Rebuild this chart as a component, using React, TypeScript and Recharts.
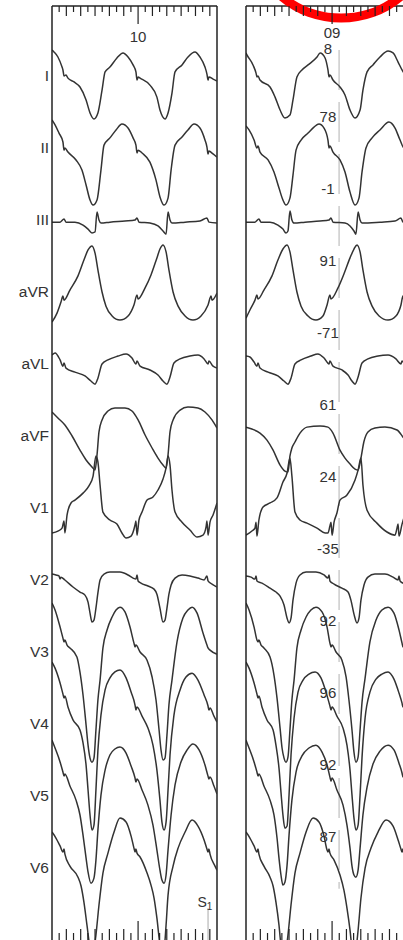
import React from "react";
import { LineChart, Line, XAxis, YAxis, ReferenceLine, ReferenceDot } from "recharts";

type Pt = [number, number]; // [ms, mV]

const LEADS = ["I", "II", "III", "aVR", "aVL", "aVF", "V1", "V2", "V3", "V4", "V5", "V6"];
const LEAD_GAP = 3; // mV between lead baselines
const SWEEP_MS = 920;
const ZERO_MS = 480; // long ruler mark under the panel number
const RULER_TICKS = [40, 80, 120, 160, 200, 240, 280, 320, 360, 400, 440, 480, 520, 560, 600, 640, 680, 720, 760, 800, 840, 880];
const AMP_TOP = 2.875;
const AMP_BOTTOM = -36.08;

// clinical beat (left panel)
const leftI: Pt[] = [[0,1.04],[11,0.96],[33,0.75],[56,0.33],[61,0.21],[67,-0.04],[78,0],[89,-0.13],[123,-0.29],[156,-0.5],[190,-1.04],[212,-1.58],[234,-1.83],[256,-1.58],[279,-0.63],[296,0.13],[323,0.33],[362,0.71],[396,0.92],[424,0.75],[452,0.42],[468,0.13],[474,-0.21],[480,-0.08],[491,-0.13],[546,-0.42],[585,-0.92],[602,-1.46],[630,-1.83],[647,-1.58],[669,-0.75],[686,0.13],[725,0.42],[758,0.75],[797,0.96],[825,0.75],[853,0.33],[864,0.04],[870,-0.21],[875,-0.08],[898,-0.17],[920,-0.25]];
const leftII: Pt[] = [[0,1.13],[17,0.92],[39,0.58],[61,0.21],[67,-0.13],[72,-0.04],[89,-0.21],[134,-0.54],[167,-0.96],[190,-1.58],[212,-2.21],[229,-2.42],[251,-2.21],[273,-0.96],[290,0.08],[323,0.38],[357,0.71],[390,0.96],[424,0.79],[452,0.38],[468,0.08],[474,-0.25],[480,-0.13],[502,-0.25],[546,-0.63],[580,-1.38],[602,-2.08],[625,-2.42],[647,-2.13],[664,-0.96],[686,0.08],[725,0.42],[758,0.71],[792,0.96],[825,0.79],[853,0.29],[864,0],[870,-0.29],[875,-0.17],[898,-0.29],[920,-0.42]];
const leftIII: Pt[] = [[0,-0.13],[45,-0.13],[67,0],[78,-0.13],[128,-0.13],[173,-0.25],[201,-0.42],[223,-0.58],[240,-0.54],[251,0.29],[262,-0.04],[273,-0.17],[323,-0.13],[407,-0.08],[463,-0.04],[474,0.04],[485,-0.13],[546,-0.17],[591,-0.29],[619,-0.5],[636,-0.63],[647,0.29],[658,-0.04],[669,-0.17],[742,-0.13],[825,-0.08],[864,0.04],[875,-0.13],[920,-0.17]];
const leftAVR: Pt[] = [[0,-1.29],[28,-0.92],[50,-0.46],[61,-0.21],[67,-0.38],[100,0.04],[145,0.63],[178,1.29],[201,1.71],[223,1.88],[240,1.58],[256,0.88],[279,-0.04],[301,-0.63],[335,-1.04],[379,-1.21],[424,-1.04],[457,-0.58],[474,-0.17],[480,-0.33],[519,0.13],[552,0.67],[585,1.38],[602,1.75],[619,1.92],[636,1.63],[652,0.88],[675,-0.04],[703,-0.63],[742,-1.04],[786,-1.21],[831,-1.04],[870,-0.58],[887,-0.21],[892,-0.38],[920,-0.08]];
const leftAVL: Pt[] = [[0,0.33],[17,0.42],[45,0.13],[61,-0.13],[67,0],[78,-0.21],[128,-0.38],[184,-0.54],[217,-0.75],[240,-0.88],[256,-0.63],[279,-0.04],[312,0.13],[368,0.29],[413,0.38],[446,0.21],[468,-0.04],[474,0.08],[491,-0.13],[546,-0.29],[591,-0.5],[619,-0.75],[641,-0.88],[658,-0.58],[680,0],[714,0.17],[769,0.29],[814,0.33],[848,0.17],[870,-0.04],[875,0.08],[898,-0.13],[920,-0.21]];
const leftAVF: Pt[] = [[0,0.96],[33,0.71],[72,0.42],[112,-0.04],[156,-0.63],[190,-1.04],[223,-1.33],[240,-1.46],[251,-0.83],[262,0.13],[279,0.63],[312,1.0],[351,1.13],[407,1.13],[446,1.0],[480,0.63],[519,0],[558,-0.54],[591,-0.96],[619,-1.25],[636,-1.38],[647,-0.83],[658,0.13],[675,0.63],[714,1.04],[758,1.17],[814,1.13],[853,0.96],[892,0.63],[920,0.29]];
const leftV1: Pt[] = [[0,-1.08],[33,-1.0],[56,-0.88],[67,-0.58],[72,-1.08],[84,-0.33],[106,0.17],[128,0.29],[173,0.58],[206,0.88],[229,1.29],[245,2.13],[256,1.88],[268,0.92],[284,-0.21],[323,-0.54],[362,-0.71],[390,-1.08],[413,-1.29],[441,-1.21],[463,-0.75],[468,-0.58],[474,-1.17],[485,-0.54],[502,-0.21],[530,0.29],[563,0.42],[591,0.71],[619,1.17],[636,1.63],[647,2.13],[658,1.75],[669,0.71],[686,-0.21],[725,-0.63],[769,-0.96],[809,-1.25],[842,-1.17],[859,-0.83],[864,-0.58],[870,-1.17],[881,-0.63],[898,-0.33],[920,0.17]];
const leftV2: Pt[] = [[0,0.21],[22,0.17],[39,0.13],[45,0],[50,0.08],[72,-0.04],[117,-0.33],[156,-0.54],[184,-0.67],[201,-0.96],[212,-1.42],[223,-1.79],[234,-1.71],[245,-1.21],[256,-0.58],[268,-0.04],[290,0.21],[323,0.29],[379,0.29],[424,0.17],[452,0.04],[468,0],[474,0.17],[480,-0.08],[496,-0.17],[535,-0.29],[569,-0.42],[585,-0.63],[602,-1.21],[619,-1.79],[630,-1.71],[641,-1.21],[652,-0.63],[664,-0.25],[686,0.04],[725,0.17],[769,0.13],[814,0.04],[848,-0.04],[864,0.13],[870,-0.08],[892,-0.21],[920,-0.33]];
const leftV3: Pt[] = [[0,2.0],[17,1.71],[45,1.0],[61,0.54],[67,0.38],[72,0.46],[84,0.25],[100,0.13],[139,-0.25],[156,-0.88],[173,-1.83],[190,-3.08],[201,-3.92],[212,-4.46],[223,-4.63],[234,-4.46],[245,-3.29],[256,-2.04],[268,-1.21],[284,0.13],[307,0.88],[335,1.42],[357,1.71],[379,1.83],[407,1.63],[435,1.0],[457,0.33],[463,0.17],[468,0.25],[491,-0.04],[530,-0.38],[558,-1.08],[580,-2.04],[597,-3.29],[608,-4.13],[619,-4.54],[630,-4.46],[641,-3.5],[652,-2.25],[669,-1.21],[697,0.38],[730,1.38],[758,1.71],[781,1.83],[809,1.58],[842,0.75],[864,0.25],[870,0.13],[881,0.04],[920,-0.13]];
const leftV4: Pt[] = [[0,2.54],[17,2.29],[45,1.67],[61,1.21],[67,1.04],[72,1.13],[89,0.67],[117,0.13],[156,-0.29],[173,-0.83],[190,-1.75],[201,-2.79],[212,-3.83],[223,-4.46],[234,-4.25],[245,-2.79],[256,-1.13],[273,0.33],[296,1.38],[323,1.88],[351,2.13],[379,2.21],[413,1.88],[441,1.29],[463,0.75],[468,0.54],[474,0.67],[502,0.29],[535,-0.21],[563,-0.92],[585,-1.96],[602,-3.21],[613,-4.13],[625,-4.46],[636,-4.13],[647,-2.79],[658,-1.33],[680,0.33],[714,1.38],[747,1.92],[781,2.08],[814,1.79],[848,1.17],[870,0.71],[875,0.54],[881,0.63],[903,0.29],[920,0.04]];
const leftV5: Pt[] = [[0,2.29],[17,1.96],[45,1.38],[61,0.96],[67,0.79],[72,0.88],[100,0.38],[134,-0.21],[156,-0.83],[173,-1.67],[190,-2.63],[201,-3.21],[217,-3.67],[234,-3.46],[245,-2.71],[256,-1.46],[273,0],[296,1.04],[323,1.67],[351,1.92],[379,2.0],[413,1.75],[441,1.21],[463,0.71],[468,0.54],[474,0.67],[502,0.21],[535,-0.42],[563,-1.25],[585,-2.29],[602,-3.13],[613,-3.54],[625,-3.67],[636,-3.33],[647,-2.29],[664,-0.83],[686,0.42],[719,1.38],[753,1.88],[786,2.13],[820,1.88],[853,1.25],[870,0.79],[875,0.67],[881,0.75],[903,0.38],[920,0.04]];
const leftV6: Pt[] = [[0,1.46],[22,1.21],[45,0.88],[61,0.63],[67,0.75],[72,0.54],[100,0.04],[145,-0.42],[162,-0.79],[178,-1.46],[195,-2.42],[212,-3.38],[223,-3.71],[234,-3.46],[245,-2.83],[262,-1.58],[284,-0.25],[312,0.58],[346,1.46],[379,2.04],[413,1.88],[441,1.29],[457,0.79],[463,0.63],[468,0.75],[474,0.58],[491,0.42],[530,-0.25],[552,-0.75],[569,-1.29],[585,-2.13],[602,-3.25],[613,-3.71],[625,-3.46],[636,-2.42],[647,-1.17],[675,0.04],[703,0.79],[742,1.46],[781,1.96],[814,1.71],[848,1.13],[864,0.75],[870,0.63],[875,0.75],[881,0.54],[909,0.04],[920,-0.13]];

// pace map (right panel)
const rightI: Pt[] = [[0,0.92],[6,0.83],[39,0.42],[56,0.08],[61,-0.08],[67,-0.04],[78,-0.21],[134,-0.5],[162,-0.92],[190,-1.46],[217,-1.79],[245,-1.67],[262,-1.04],[284,-0.08],[312,0.21],[346,0.42],[396,0.75],[413,0.92],[441,0.71],[457,0.21],[463,-0.08],[468,0],[485,-0.21],[524,-0.5],[552,-0.83],[580,-1.46],[608,-1.79],[636,-1.46],[652,-0.63],[675,0.13],[708,0.42],[747,0.75],[792,1.0],[820,0.92],[848,0.54],[870,0.21],[887,0],[898,-0.13],[920,-0.29]];
const rightII: Pt[] = [[0,0.88],[17,0.71],[45,0.29],[61,-0.04],[67,0.04],[78,-0.21],[123,-0.54],[156,-1.04],[184,-1.71],[206,-2.21],[223,-2.42],[245,-2.13],[262,-1.17],[279,-0.13],[307,0.29],[346,0.58],[379,0.83],[407,0.96],[435,0.79],[457,0.29],[463,-0.04],[468,0.04],[485,-0.21],[524,-0.54],[552,-1.04],[580,-1.88],[608,-2.42],[630,-2.13],[647,-1.04],[669,-0.04],[703,0.38],[747,0.71],[797,1.04],[831,0.79],[859,0.29],[881,-0.04],[887,0.04],[903,-0.21],[920,-0.33]];
const rightIII: Pt[] = [[0,-0.13],[50,-0.13],[72,0],[84,-0.13],[134,-0.13],[178,-0.25],[206,-0.42],[223,-0.58],[234,-0.5],[245,0.33],[256,-0.04],[268,-0.17],[329,-0.13],[413,-0.08],[463,-0.04],[474,0.04],[485,-0.13],[552,-0.17],[580,-0.29],[602,-0.5],[613,-0.63],[625,0.29],[636,-0.04],[647,-0.17],[747,-0.13],[831,-0.08],[864,0.04],[875,-0.13],[920,-0.17]];
const rightAVR: Pt[] = [[0,-1.13],[22,-0.79],[50,-0.38],[61,-0.17],[67,-0.33],[100,0.04],[145,0.63],[178,1.29],[206,1.75],[229,1.92],[245,1.63],[262,0.88],[284,-0.04],[307,-0.63],[346,-1.04],[390,-1.21],[429,-1.04],[452,-0.58],[468,-0.17],[474,-0.33],[513,0.13],[546,0.71],[580,1.38],[602,1.75],[619,1.92],[636,1.63],[652,0.88],[675,-0.04],[703,-0.63],[742,-1.04],[792,-1.21],[836,-1.04],[864,-0.58],[875,-0.21],[881,-0.38],[920,0]];
const rightAVL: Pt[] = [[0,0.29],[22,0.25],[45,0.04],[61,-0.13],[67,0],[78,-0.21],[123,-0.38],[178,-0.54],[212,-0.75],[234,-0.88],[251,-0.63],[273,-0.04],[307,0.13],[362,0.29],[401,0.38],[435,0.21],[463,-0.04],[468,0.08],[485,-0.13],[535,-0.29],[569,-0.5],[591,-0.75],[608,-0.88],[625,-0.58],[647,0],[680,0.17],[736,0.29],[792,0.33],[836,0.17],[864,-0.04],[870,0.08],[892,-0.13],[920,-0.21]];
const rightAVF: Pt[] = [[0,0.33],[33,0.25],[78,0.08],[117,-0.21],[151,-0.63],[190,-1.25],[217,-1.5],[234,-1.54],[245,-0.88],[256,-0.54],[273,-0.29],[301,0.08],[340,0.33],[413,0.38],[457,0.33],[485,0.08],[524,-0.63],[552,-0.96],[580,-1.21],[608,-1.42],[625,-1.46],[641,-0.96],[657,-0.29],[680,0.13],[719,0.29],[775,0.33],[842,0.21],[875,-0.08],[920,-0.54]];
const rightV1: Pt[] = [[0,-1.17],[33,-1.0],[50,-0.88],[56,-0.63],[61,-1.21],[72,-0.54],[95,0],[134,0.17],[173,0.38],[206,1.04],[229,1.42],[245,2.04],[256,1.29],[273,-0.21],[301,-0.54],[340,-0.67],[396,-0.88],[441,-1.08],[457,-1.08],[468,-0.79],[474,-0.63],[480,-1.17],[491,-0.63],[507,-0.25],[524,0.29],[563,0.5],[608,1.13],[625,1.54],[641,2.04],[652,0.92],[675,-0.13],[730,-0.67],[786,-1.04],[831,-1.17],[842,-0.88],[848,-0.71],[853,-1.21],[870,-0.71],[892,-0.21],[920,0.08]];
const rightV2: Pt[] = [[0,0.13],[28,0.08],[50,0],[56,0.13],[61,-0.08],[89,-0.17],[134,-0.38],[167,-0.54],[190,-0.71],[212,-1.08],[229,-1.63],[240,-1.83],[251,-1.63],[262,-0.88],[279,-0.17],[301,0.17],[335,0.29],[390,0.29],[435,0.17],[457,0.04],[463,0.17],[468,-0.08],[491,-0.21],[535,-0.38],[569,-0.54],[585,-0.88],[602,-1.46],[619,-1.83],[630,-1.63],[641,-0.88],[658,-0.25],[680,0.08],[719,0.21],[775,0.21],[820,0.08],[848,-0.04],[853,0.13],[859,-0.08],[887,-0.21],[920,-0.33]];
const rightV3: Pt[] = [[0,2.0],[17,1.71],[45,1.0],[61,0.46],[67,0.38],[72,0.46],[84,0.25],[100,0.13],[134,-0.25],[156,-1.0],[173,-1.96],[190,-3.21],[201,-4.04],[212,-4.46],[223,-4.63],[234,-4.42],[245,-3.29],[256,-2.04],[268,-1.21],[284,0.13],[307,0.88],[335,1.42],[362,1.71],[390,1.83],[424,1.63],[452,1.0],[468,0.33],[474,0.17],[480,0.25],[502,-0.04],[535,-0.38],[558,-1.08],[574,-2.04],[591,-3.29],[602,-4.21],[613,-4.63],[625,-4.42],[636,-3.29],[647,-2.13],[664,-1.13],[691,0.38],[725,1.29],[758,1.71],[792,1.83],[825,1.58],[853,0.88],[870,0.33],[875,0.17],[881,0.25],[903,-0.04],[920,-0.17]];
const rightV4: Pt[] = [[0,2.54],[17,2.29],[45,1.67],[61,1.21],[67,1.04],[72,1.13],[89,0.67],[117,0.13],[151,-0.29],[167,-0.92],[184,-1.88],[195,-2.88],[206,-3.83],[217,-4.38],[229,-4.29],[240,-3.0],[251,-1.33],[268,0.21],[290,1.29],[318,1.79],[351,2.04],[385,2.13],[418,1.88],[446,1.29],[468,0.71],[474,0.54],[480,0.67],[507,0.29],[541,-0.21],[563,-0.92],[580,-1.96],[591,-3.0],[602,-3.96],[613,-4.46],[625,-4.25],[636,-3.0],[647,-1.42],[664,0.21],[691,1.29],[725,1.83],[758,2.04],[792,2.13],[825,1.83],[853,1.25],[870,0.83],[875,0.67],[881,0.79],[903,0.46],[920,0.21]];
const rightV5: Pt[] = [[0,2.29],[17,1.96],[45,1.38],[61,0.96],[67,0.79],[72,0.88],[100,0.38],[134,-0.21],[156,-0.83],[173,-1.79],[184,-2.63],[195,-3.33],[206,-3.75],[217,-3.63],[229,-2.92],[240,-1.67],[256,-0.21],[279,0.96],[312,1.63],[351,1.96],[390,2.08],[424,1.79],[452,1.25],[468,0.75],[474,0.58],[480,0.71],[507,0.21],[541,-0.42],[563,-1.25],[580,-2.21],[591,-2.96],[602,-3.33],[613,-3.42],[625,-3.13],[636,-2.21],[652,-0.83],[675,0.33],[708,1.29],[747,1.83],[792,2.08],[825,1.88],[853,1.33],[870,0.92],[875,0.75],[881,0.83],[903,0.46],[920,0.13]];
const rightV6: Pt[] = [[0,1.46],[22,1.21],[45,0.88],[61,0.63],[67,0.75],[72,0.54],[100,0.04],[134,-0.42],[151,-0.79],[167,-1.46],[184,-2.42],[195,-3.25],[212,-3.71],[223,-3.46],[234,-2.83],[251,-1.58],[273,-0.25],[301,0.58],[335,1.46],[374,2.04],[407,1.88],[435,1.29],[452,0.71],[457,0.63],[463,0.75],[468,0.58],[491,0.29],[524,-0.33],[546,-0.96],[563,-1.71],[580,-2.63],[591,-3.38],[602,-3.71],[613,-3.46],[625,-2.63],[641,-1.29],[664,-0.04],[697,0.79],[736,1.46],[781,1.96],[820,1.71],[848,1.13],[864,0.75],[870,0.63],[875,0.75],[881,0.54],[920,0.04]];

const leftTraces = [leftI, leftII, leftIII, leftAVR, leftAVL, leftAVF, leftV1, leftV2, leftV3, leftV4, leftV5, leftV6];
const rightTraces = [rightI, rightII, rightIII, rightAVR, rightAVL, rightAVF, rightV1, rightV2, rightV3, rightV4, rightV5, rightV6];

// per-lead pace map correlation
const PACE_SCORES = [8, 78, -1, 91, -71, 61, 24, -35, 92, 96, 92, 87];
const SCORE_MS = 457;
const COMPARE_MS = 519; // dashed alignment cursor
const STIM_MS = 870; // S1 stimulus

const INK = "#222";
const TRACE = "#333";
const FONT = "'Liberation Sans', Arial, Helvetica, sans-serif";

function RulerTick(props: any) {
  const { x, y, payload, side, caption, captionDy } = props;
  const ms = payload.value;
  const up = side === "bottom";
  const len = ms === ZERO_MS ? (up ? 20 : 18) : ms % 80 === 0 ? (up ? 12 : 10) : up ? 8 : 6;
  return (
    <g>
      <line x1={x} x2={x} y1={y} y2={up ? y - len : y + len} stroke={INK} strokeWidth={1.2} />
      {caption && ms === ZERO_MS ? (
        <text x={x} y={y + captionDy} dy="0.36em" textAnchor="middle" fontSize={15} fill="#333" fontFamily={FONT}>
          {caption}
        </text>
      ) : null}
    </g>
  );
}

function EcgPanel({ traces, caption, captionDy, left, width, axisWidth, rightMargin, names, children }: any) {
  const leadTicks = LEADS.map((_, k) => -k * LEAD_GAP);
  return (
    <div style={{ position: "absolute", left, top: 0 }}>
      <LineChart width={width} height={945} margin={{ top: 0, right: rightMargin, bottom: 0, left: 0 }}>
        <XAxis
          xAxisId="top"
          orientation="top"
          type="number"
          dataKey="t"
          domain={[0, SWEEP_MS]}
          allowDataOverflow
          ticks={RULER_TICKS}
          interval={0}
          height={6}
          tickSize={0}
          tickMargin={0}
          tickLine={false}
          axisLine={{ stroke: INK, strokeWidth: 1.5 }}
          tick={<RulerTick side="top" caption={caption} captionDy={captionDy} />}
        />
        <XAxis
          type="number"
          dataKey="t"
          domain={[0, SWEEP_MS]}
          allowDataOverflow
          ticks={RULER_TICKS}
          interval={0}
          height={4}
          tickSize={0}
          tickMargin={0}
          tickLine={false}
          axisLine={{ stroke: INK, strokeWidth: 1.5 }}
          tick={<RulerTick side="bottom" />}
        />
        <YAxis
          type="number"
          domain={[AMP_BOTTOM, AMP_TOP]}
          allowDataOverflow
          width={axisWidth}
          ticks={leadTicks}
          interval={0}
          tickSize={0}
          tickMargin={3}
          tickLine={false}
          axisLine={{ stroke: INK, strokeWidth: 1.5 }}
          tickFormatter={(v: number) => LEADS[Math.round(-v / LEAD_GAP)]}
          tick={names ? { fill: "#333", fontSize: 15.5, fontFamily: FONT } : false}
        />
        <ReferenceLine x={SWEEP_MS} stroke={INK} strokeWidth={1.5} ifOverflow="visible" />
        {children}
        {traces.map((trace: Pt[], k: number) => (
          <Line
            key={LEADS[k]}
            data={trace.map(([t, mv]) => ({ t, [LEADS[k]]: mv - k * LEAD_GAP }))}
            dataKey={LEADS[k]}
            type="monotone"
            stroke={TRACE}
            strokeWidth={1.5}
            dot={false}
            activeDot={false}
            isAnimationActive={false}
          />
        ))}
      </LineChart>
    </div>
  );
}

export default function App() {
  return (
    <div
      style={{
        position: "absolute",
        left: 0,
        top: 0,
        width: 403,
        height: 940,
        overflow: "hidden",
        background: "#fff",
        fontFamily: FONT,
      }}
    >
      <EcgPanel traces={leftTraces} caption="10" captionDy={31} left={0} width={230} axisWidth={52} rightMargin={13} names>
        <ReferenceLine
          segment={[{ x: STIM_MS, y: -34.71 }, { x: STIM_MS, y: AMP_BOTTOM }]}
          stroke="#aaa"
          strokeWidth={1}
          ifOverflow="visible"
        />
        <ReferenceDot
          x={853}
          y={-34.46}
          ifOverflow="visible"
          shape={(p: any) => (
            <text x={p.cx} y={p.cy} dy="0.36em" textAnchor="middle" fontSize={14} fill="#333" fontFamily={FONT}>
              S<tspan fontSize={10} dy={3}>1</tspan>
            </text>
          )}
        />
      </EcgPanel>
      <EcgPanel traces={rightTraces} caption="09" captionDy={27} left={236} width={185} axisWidth={10} rightMargin={10} names={false}>
        <ReferenceLine
          segment={[{ x: COMPARE_MS, y: 1.04 }, { x: COMPARE_MS, y: -33.9 }]}
          stroke="#c4c4c4"
          strokeWidth={1.3}
          strokeDasharray="40 12"
          ifOverflow="visible"
        />
        {PACE_SCORES.map((s, k) => (
          <ReferenceDot
            key={`score-${k}`}
            x={SCORE_MS}
            y={-k * LEAD_GAP + (k === 0 ? 1.1 : 1.25)}
            ifOverflow="visible"
            shape={(p: any) => (
              <text x={p.cx} y={p.cy} dy="0.36em" textAnchor="middle" fontSize={15} fill="#333" fontFamily={FONT}>
                {s}
              </text>
            )}
          />
        ))}
        <ReferenceDot
          x={530}
          y={5.625}
          ifOverflow="visible"
          shape={(p: any) => <ellipse cx={p.cx} cy={p.cy} rx={86} ry={78} fill="none" stroke="#ff0000" strokeWidth={9} />}
        />
      </EcgPanel>
    </div>
  );
}
